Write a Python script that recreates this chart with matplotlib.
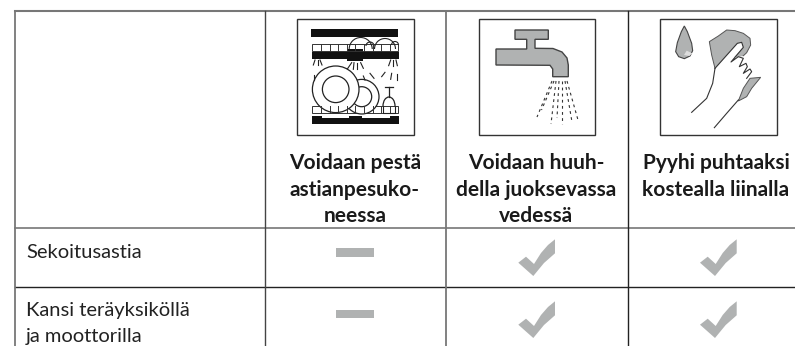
import matplotlib
matplotlib.use('Agg')
import matplotlib.pyplot as plt
from matplotlib.patches import Polygon, Rectangle, Circle, Arc

headers = ['Voidaan pestä\nastianpesuko-\nneessa', 'Voidaan huuh-\ndella juoksevassa\nvedessä', 'Pyyhi puhtaaksi\nkostealla liinalla']
categories = ['Sekoitusastia', 'Kansi teräyksiköllä\nja moottorilla']
dishwasher = [False, False]
rinse = [True, True]
wipe = [True, True]

DARK = '#222222'
GREY = '#777777'
FILL = '#b0b2b2'

col_x = [15, 264.5, 446, 627.5]
row_y = [11, 228, 287]

fig = plt.figure(figsize=(7.95, 3.46), dpi=100)
ax = fig.add_axes([0, 0, 1, 1])
ax.set_xlim(0, 795)
ax.set_ylim(346, 0)
ax.axis('off')

# grid
ax.plot([15, 795], [row_y[0], row_y[0]], color=GREY, lw=1.5)
ax.plot([15, 795], [row_y[1], row_y[1]], color=GREY, lw=1.2)
ax.plot([15, 795], [row_y[2], row_y[2]], color=DARK, lw=1)
ax.plot([col_x[0], col_x[0]], [row_y[0], 346], color=GREY, lw=1.3)
ax.plot([col_x[1], col_x[1]], [row_y[0], 346], color='#444444', lw=1)
ax.plot([col_x[2], col_x[2]], [row_y[0], 346], color=GREY, lw=1.3)
ax.plot([col_x[3], col_x[3]], [row_y[0], 346], color=DARK, lw=1)

# icon frames
for x0 in [297, 478.5, 660]:
    ax.add_patch(Rectangle((x0, 19), 116.5, 116, fc='white', ec='#333333', lw=1))


def rect(x, y, w, h, c='#111111'):
    ax.add_patch(Rectangle((x, y), w, h, fc=c, ec='none'))


# dishwasher icon (zoom coords: x/3+270, y/3)
def dz(pts):
    return [(x / 3 + 270, y / 3) for x, y in pts]


rect(311, 29, 87, 7.7)
rect(312, 51.7, 86.5, 7.3)
rect(347.3, 49, 15.4, 11.7)
rect(312.3, 116, 87, 8.3)
rect(321.7, 116, 27.6, 2.3, 'white')
rect(361.7, 116, 28.3, 2.3, 'white')
for top in [43.5, 106]:
    ax.add_patch(Rectangle((312.3, top), 86, 7, fc='none', ec='#333333', lw=0.7))
    for i in range(1, 10):
        ax.plot([312.3 + i * 8.6] * 2, [top, top + 7], color='#333333', lw=0.7)
for cx, cy, r in [(361.7, 96.7, 17.3), (361.7, 96.7, 10), (335.7, 89.3, 23.3), (335.7, 89.3, 13.3)]:
    ax.add_patch(Circle((cx, cy), r, fc='white', ec='#222222', lw=0.9))
for cx, cy, r in [(360.7, 49, 11.5), (385, 49, 10.5), (370, 46, 4), (395, 45, 3.5)]:
    ax.add_patch(Arc((cx, cy), 2 * r, 2 * r, theta1=180, theta2=360, ec='#222222', lw=0.8))
ax.plot([389, 389], [87, 97], color='#222222', lw=0.9)
ax.plot([385, 393], [87, 87], color='#222222', lw=0.9)
ax.add_patch(Arc((389, 106), 12, 18, theta1=180, theta2=360, ec='#222222', lw=0.9))
ax.plot([383, 383, 395, 395], [106, 113, 113, 106], color='#222222', lw=0.8)
for a, b in [((135, 180), (130, 195)), ((143, 180), (143, 195)), ((150, 180), (156, 195)),
             ((245, 188), (232, 207)), ((252, 188), (250, 208)), ((262, 188), (262, 208)), ((272, 188), (280, 205)),
             ((362, 180), (356, 197)), ((370, 180), (370, 197)), ((378, 180), (382, 197)),
             ((300, 220), (312, 235)), ((345, 217), (335, 230)), ((365, 220), (362, 238)), ((380, 222), (380, 240)),
             ((280, 228), (285, 240)), ((133, 225), (133, 240))]:
    (xa, ya), (xb, yb) = dz([a, b])
    ax.plot([xa, xb], [ya, yb], color='#222222', lw=0.8)

tap = [(515, 30), (548.3, 30), (548.3, 39.3), (535, 39.3), (535, 48.3), (553, 48.5), (562, 52), (567, 58),
       (568.3, 65), (568.3, 76.7), (552.7, 76.7), (552.7, 69), (550, 65.3), (496, 65), (496, 49),
       (526.7, 49), (526.7, 39.3), (515, 39.3)]
ax.add_patch(Polygon(tap, closed=True, fc=FILL, ec='#444444', lw=1))
for (xa, ya), (xb, yb) in [((552, 81), (537, 117)), ((554, 81), (541.5, 110)), ((556, 81), (551, 124)),
                           ((559, 81), (557, 118)), ((561.5, 81), (561.5, 124)), ((565, 81), (572, 122)),
                           ((567, 81), (578, 120))]:
    ax.plot([xa, xb], [ya, yb], color='#333333', lw=0.8, dashes=(2.5, 3))


# wipe icon (zoom coords: x/3+530, y/3)
def wz(pts):
    return [(x / 3 + 530, y / 3) for x, y in pts]


drop = [(463, 78), (472, 95), (485, 130), (488, 152), (480, 168), (463, 176), (446, 170), (437, 155), (442, 128), (454, 95)]
ax.add_patch(Polygon(wz(drop), closed=True, fc=FILL, ec='#444444', lw=0.8))
ax.add_patch(Polygon(wz([(462, 165), (470, 152), (487, 160), (478, 168)]), closed=True, fc='#dddddd', ec='none'))
cloth = [(538, 125), (565, 108), (590, 90), (615, 92), (640, 100), (660, 115), (662, 135), (650, 158), (635, 172),
         (600, 180), (555, 205), (545, 165)]
ax.add_patch(Polygon(wz(cloth), closed=True, fc=FILL, ec='#555555', lw=0.7))
hand = [(555, 205), (622, 130), (635, 127), (640, 142), (612, 172), (640, 168), (645, 190), (660, 208), (662, 232),
        (625, 303), (590, 340), (553, 383), (530, 380), (500, 340), (530, 295), (548, 250)]
ax.add_patch(Polygon(wz(hand), closed=True, fc='white', ec='none'))
for line in [[(555, 205), (622, 130), (635, 127), (640, 142), (603, 186), (625, 170), (640, 175), (628, 200),
              (648, 190), (652, 200), (640, 220), (660, 207), (665, 215), (650, 235)],
             [(555, 205), (548, 250), (530, 295), (485, 337)],
             [(625, 300), (590, 340), (553, 383)]]:
    pts = wz(line)
    ax.plot([p[0] for p in pts], [p[1] for p in pts], color='#333333', lw=0.8)
ax.add_patch(Polygon(wz([(660, 235), (692, 232), (665, 265), (650, 290), (625, 303), (640, 265)]), closed=True,
                     fc=FILL, ec='#555555', lw=0.7))

# header text
head_x = [355, 536, 716]
for cx, h in zip(head_x, headers):
    for line, b in zip(h.split('\n'), [169, 196, 221.5]):
        ax.text(cx, b, line, ha='center', va='baseline', family='Lato', weight='bold',
                fontsize=15, color='#1a1a1a')

# row labels
label_base = [[257.5], [316, 342]]
for lab, bases in zip(categories, label_base):
    for line, b in zip(lab.split('\n'), bases):
        ax.text(26, b, line, ha='left', va='baseline', family='Lato', fontsize=14.5, color='#222222')


# marks
def draw_dash(cx, cy):
    rect(cx - 19, cy - 4.2, 38, 8.4, FILL)


def draw_check(cx, cy):
    shape = [(-18.7, 1.7), (-11, -4.3), (-3, 3), (4, -8), (11, -16), (18, -21.7), (18, -7.7), (7, 2), (-3.7, 15)]
    ax.add_patch(Polygon([(cx + x, cy + y) for x, y in shape], closed=True, fc=FILL, ec='none'))


check_y = [261, 323]
dash_y = [252.5, 314.2]
mark_x = [355, 537, 718.7]
for cx, col in zip(mark_x, [dishwasher, rinse, wipe]):
    for r, v in enumerate(col):
        if v:
            draw_check(cx, check_y[r])
        else:
            draw_dash(cx, dash_y[r])

fig.savefig('out.png', dpi=100)
